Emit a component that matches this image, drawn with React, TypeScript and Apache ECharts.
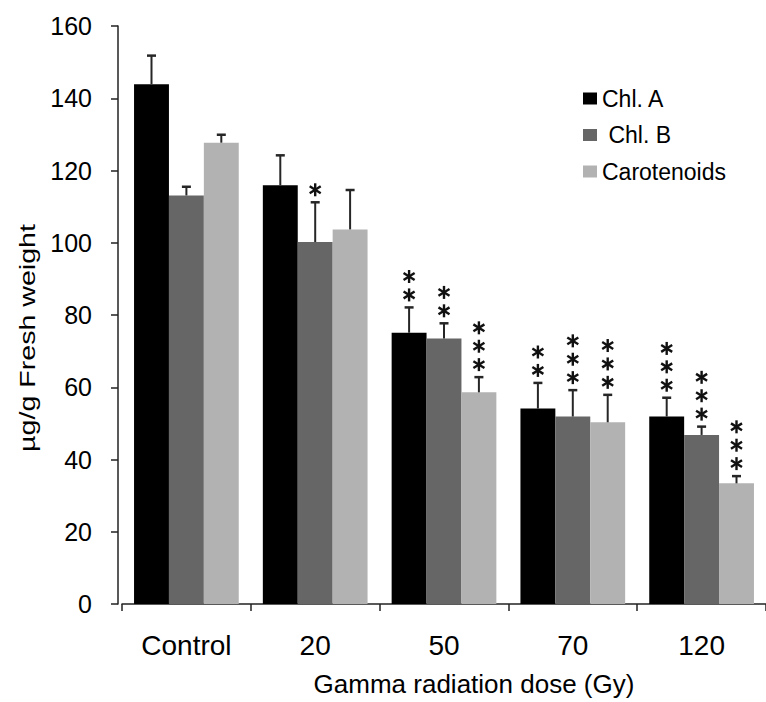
import React, { useEffect, useRef } from "react";
import * as echarts from "echarts";

const categories = ["Control", "20", "50", "70", "120"];
const seriesNames = ["Chl. A", "Chl. B", "Carotenoids"];
const chlA = [143.9, 115.9, 75.1, 54.1, 51.9];
const chlB = [113.1, 100.2, 73.5, 51.9, 46.8];
const carot = [127.7, 103.7, 58.6, 50.3, 33.4];
const errA = [7.9, 8.3, 7.0, 7.1, 5.2];
const errB = [2.4, 11.0, 4.2, 7.3, 2.3];
const errC = [2.2, 10.9, 4.2, 7.6, 2.0];
const starsA = [0, 0, 2, 2, 3];
const starsB = [0, 1, 2, 3, 3];
const starsC = [0, 0, 3, 3, 3];
const colors = ["#000000", "#666666", "#b2b2b2"];

const FONT = "'Liberation Sans', Arial, Helvetica, sans-serif";
const CAT_GAP = 0.187;

export default function App() {
  const ref = useRef<HTMLDivElement>(null);
  useEffect(() => {
    if (!ref.current) return;
    document.body.style.margin = "0";
    const chart = echarts.init(ref.current, null, { renderer: "svg" });
    const values = [chlA, chlB, carot];
    const errs = [errA, errB, errC];
    const stars = [starsA, starsB, starsC];

    const barSeries = values.map((vals, i) => ({
      name: seriesNames[i],
      type: "bar",
      data: vals,
      barGap: "0%",
      barCategoryGap: CAT_GAP * 100 + "%",
      itemStyle: { color: colors[i] },
      z: 2,
    }));

    const errSeries = values.map((vals, si) => ({
      type: "custom",
      name: seriesNames[si] + " err",
      z: 5,
      clip: false,
      silent: true,
      encode: { x: 0, y: 1 },
      data: vals.map((v, ci) => [ci, v, errs[si][ci], stars[si][ci]]),
      renderItem: (params: any, api: any) => {
        const cat = api.value(0);
        const v = api.value(1);
        const e = api.value(2);
        const s = api.value(3);
        const base = api.coord([cat, v]);
        const top = api.coord([cat, v + e]);
        const band = api.size([1, 0])[0];
        const bw = (band * (1 - CAT_GAP)) / 3;
        const x = base[0] + (si - 1) * bw;
        const stroke = { stroke: "#262626", lineWidth: 2 };
        const children: any[] = [
          { type: "line", shape: { x1: x, y1: base[1], x2: x, y2: top[1] }, style: stroke },
          { type: "line", shape: { x1: x - 4.5, y1: top[1], x2: x + 4.5, y2: top[1] }, style: { stroke: "#262626", lineWidth: 2.5 } },
        ];
        for (let k = 0; k < s; k++) {
          const cy = top[1] - 12.5 - k * 18.4;
          const r = 6.5;
          [90, 32, 148].forEach((deg) => {
            const a = (deg * Math.PI) / 180;
            const dx = r * Math.cos(a);
            const dy = r * Math.sin(a);
            children.push({
              type: "line",
              shape: { x1: x - dx, y1: cy - dy, x2: x + dx, y2: cy + dy },
              style: { stroke: "#111", lineWidth: 2.4 },
            });
          });
        }
        return { type: "group", children };
      },
    }));

    chart.setOption({
      animation: false,
      backgroundColor: "#ffffff",
      textStyle: { fontFamily: FONT },
      grid: { left: 122, right: -12, top: 26, bottom: 98, containLabel: false },
      legend: {
        data: seriesNames,
        orient: "vertical",
        left: 583,
        top: 87,
        padding: 0,
        itemWidth: 14,
        itemHeight: 12,
        itemGap: 13.5,
        icon: "rect",
        formatter: (name: string) => (name === "Chl. B" ? " Chl. B" : name),
        textStyle: { fontSize: 23, color: "#000", fontFamily: FONT },
      },
      xAxis: {
        type: "category",
        data: categories,
        axisLine: { show: true, lineStyle: { color: "#222", width: 1.5 } },
        axisTick: { show: true, length: 7, lineStyle: { color: "#222", width: 1.5 } },
        axisLabel: { fontSize: 28, color: "#000", margin: 27, fontFamily: FONT },
      },
      yAxis: {
        type: "value",
        min: 0,
        max: 160,
        interval: 20,
        offset: 4,
        axisLine: { show: true, lineStyle: { color: "#222", width: 1.5 } },
        axisTick: { show: true, length: 7, lineStyle: { color: "#222", width: 1.5 } },
        splitLine: { show: false },
        axisLabel: { fontSize: 25, color: "#000", margin: 26, fontFamily: FONT },
      },
      graphic: [
        {
          type: "text",
          x: 27,
          y: 338,
          rotation: Math.PI / 2,
          scaleX: 1.3,
          style: {
            text: "µg/g Fresh weight",
            font: `22px ${FONT}`,
            fill: "#000",
            textAlign: "center",
            textVerticalAlign: "middle",
          },
        },
        {
          type: "text",
          x: 474,
          y: 684,
          style: {
            text: "Gamma radiation dose (Gy)",
            font: `26px ${FONT}`,
            fill: "#000",
            textAlign: "center",
            textVerticalAlign: "middle",
          },
        },
      ],
      series: [...barSeries, ...errSeries],
    });
    return () => chart.dispose();
  }, []);
  return (
    <div
      ref={ref}
      style={{ position: "fixed", left: 0, top: 0, width: 766, height: 702, background: "#fff" }}
    />
  );
}
